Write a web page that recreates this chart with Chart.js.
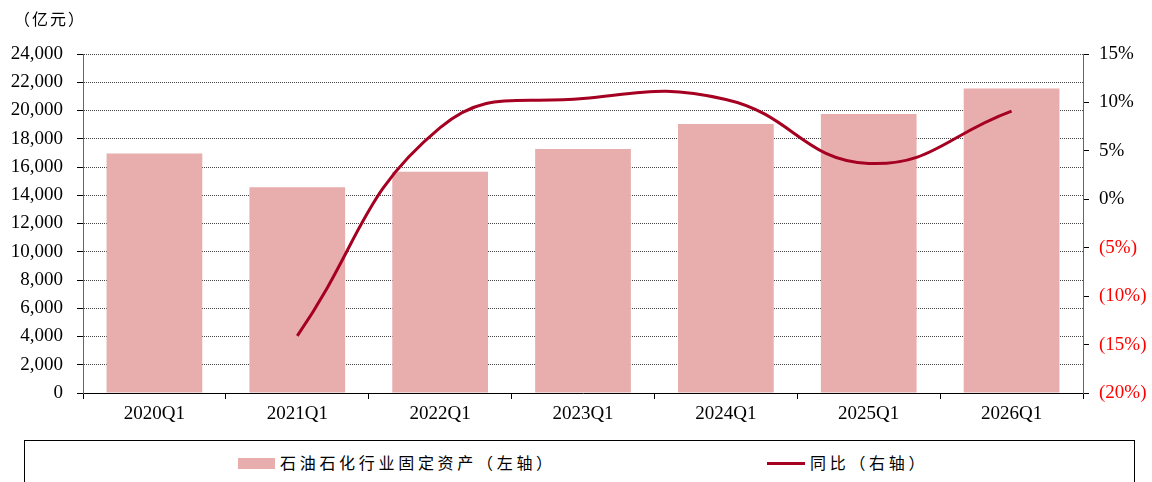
<!DOCTYPE html>
<html>
<head>
<meta charset="utf-8">
<script src="https://cdn.jsdelivr.net/npm/chart.js@4"></script>
<style>
  html, body { margin: 0; padding: 0; background: #fff; }
  body { width: 1152px; height: 482px; position: relative; overflow: hidden; }
  #chartWrap { position: absolute; left: 0; top: 0; width: 1152px; height: 440px; }
  .unit { position: absolute; left: 14px; top: 6px; font: 16px "Noto Sans CJK SC"; letter-spacing: 2px; color: #000; }
  .legendBox { position: absolute; left: 24px; top: 440px; width: 1111px; height: 60px; border: 1px solid #000; box-sizing: border-box; }
  .lg { position: absolute; font: 16px "Noto Sans CJK SC"; letter-spacing: 3.7px; color: #000; top: 450px; }
  .sw { position: absolute; }
</style>
</head>
<body>
<div id="chartWrap"><canvas id="chart" width="1152" height="440"></canvas></div>
<div class="unit">（亿元）</div>
<div class="legendBox"></div>
<div class="sw" id="swBar" style="left:238px;top:458px;width:37px;height:11px;"></div>
<div class="lg" style="left:280px;">石油石化行业固定资产（左轴）</div>
<div class="sw" id="swLine" style="left:767px;top:462px;width:38px;height:3px;"></div>
<div class="lg" style="left:810px;">同比（右轴）</div>
<script>
// Chart data
const quarters = ['2020Q1', '2021Q1', '2022Q1', '2023Q1', '2024Q1', '2025Q1', '2026Q1'];
const assetValues = [16960, 14560, 15670, 17270, 19040, 19760, 21560];
const yoyValues = [null, -14.1, 7.4, 10.4, 10.3, 3.7, 9.1];

const colors = {
    bar: '#e8adad',
    line: '#a50021',
    grid: '#444',
    axis: '#666',
    negative: '#ff0000'
};

document.getElementById('swBar').style.background = colors.bar;
document.getElementById('swLine').style.background = colors.line;

const serif = { family: 'Liberation Serif', size: 19 };

const ctx = document.getElementById('chart').getContext('2d');
new Chart(ctx, {
    data: {
        labels: quarters,
        datasets: [{
            type: 'line',
            label: '同比（右轴）',
            data: yoyValues,
            yAxisID: 'yRight',
            borderColor: colors.line,
            borderWidth: 3,
            pointRadius: 0,
            tension: 0.45,
            order: 0
        }, {
            type: 'bar',
            label: '石油石化行业固定资产（左轴）',
            data: assetValues,
            yAxisID: 'yLeft',
            backgroundColor: colors.bar,
            categoryPercentage: 1,
            barPercentage: 0.67,
            order: 1
        }]
    },
    options: {
        responsive: false,
        animation: false,
        layout: { padding: { top: 54, left: 0, right: 0, bottom: 0 } },
        plugins: {
            legend: { display: false },
            tooltip: { enabled: false }
        },
        scales: {
            x: {
                offset: true,
                grid: { offset: true, drawOnChartArea: false, tickLength: 6, color: '#000' },
                border: { color: '#000', width: 1 },
                ticks: { font: serif, color: '#000', padding: 4, maxRotation: 0 },
                afterFit: function(scale) { scale.height = 47; }
            },
            yLeft: {
                position: 'left',
                min: 0,
                max: 24000,
                grid: { color: colors.grid, tickLength: 6, tickColor: '#000', tickBorderDash: [] },
                border: { color: colors.axis, width: 1, dash: [1, 1] },
                ticks: {
                    stepSize: 2000,
                    font: serif,
                    color: '#000',
                    padding: 14,
                    callback: v => v.toLocaleString('en-US')
                },
                afterFit: function(scale) { scale.width = 83; }
            },
            yRight: {
                position: 'right',
                min: -20,
                max: 15,
                grid: { drawOnChartArea: false, tickLength: 6, color: '#000' },
                border: { color: colors.axis, width: 1 },
                ticks: {
                    stepSize: 5,
                    font: serif,
                    padding: 10,
                    color: c => c.tick.value < 0 ? colors.negative : '#000',
                    callback: v => v < 0 ? '(' + Math.abs(v) + '%)' : v + '%'
                },
                afterFit: function(scale) { scale.width = 69; }
            }
        }
    }
});
</script>
</body>
</html>
